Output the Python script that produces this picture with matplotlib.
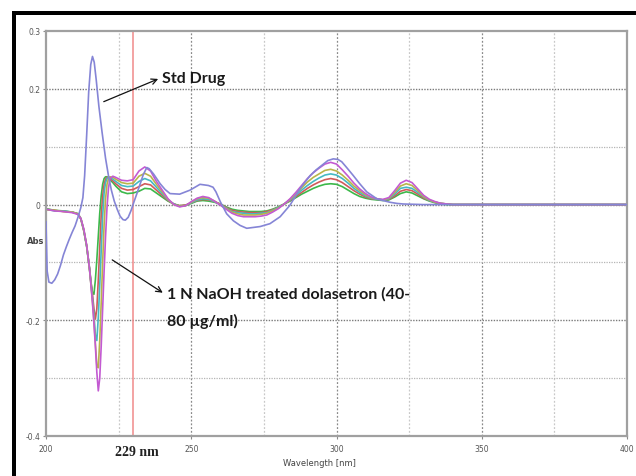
import matplotlib
matplotlib.use("Agg")
import matplotlib.pyplot as plt
from matplotlib.patches import Rectangle

# ---------------- data ----------------
# Std drug (first-derivative spectrum)
std_wl = [200, 200.4, 201, 202, 203, 204, 205, 206, 207, 208, 209, 210, 211, 212,
          212.7, 213.3, 214, 214.7, 215.4, 216, 216.6, 217.3, 218.2, 219.3, 220.5,
          221.5, 222.5, 223.5, 224.5, 225.5, 226.5, 227.3, 228.3, 229.3, 230.3,
          231.5, 232.5, 233.5, 234.7, 235.5, 237, 239.3, 241, 242.7, 246, 249.6,
          253, 255.9, 257.5, 258.5, 260, 262.2, 264.5, 266.8, 269.1, 273.7, 277.1,
          280.6, 284, 287.5, 290.9, 293, 295.5, 297, 298.9, 300.5, 301.8, 303.5,
          305.8, 308, 310.4, 313.9, 316, 318.4, 320.8, 323, 330, 340, 350, 360,
          370, 380, 390, 400]
std_abs = [-0.03, -0.115, -0.134, -0.136, -0.13, -0.12, -0.105, -0.087, -0.073,
           -0.06, -0.048, -0.037, -0.022, -0.005,
           0.012, 0.05, 0.12, 0.195, 0.242, 0.256, 0.246, 0.215, 0.17, 0.125, 0.08,
           0.05, 0.025, 0.006, -0.008, -0.02, -0.026, -0.027, -0.022, -0.01, 0.005,
           0.022, 0.037, 0.052, 0.064, 0.062, 0.053, 0.036, 0.026, 0.019, 0.018, 0.025,
           0.035, 0.033, 0.03, 0.022, 0.005, -0.016, -0.028, -0.036, -0.041, -0.038, -0.033,
           -0.021, -0.001, 0.028, 0.05, 0.06, 0.07, 0.076, 0.079, 0.078, 0.074, 0.064,
           0.05, 0.036, 0.022, 0.01, 0.007, 0.004, 0.002, 0.001, 0.0, 0.0, 0.0, 0.0,
           0.0, 0.0, 0.0, 0.0]

# 1 N NaOH treated dolasetron, 40-80 ug/ml
wl = [200, 203, 206, 209, 211, 212, 213, 214, 215, 215.5, 216, 216.5, 217, 217.5,
      218, 218.5, 219, 219.5, 220, 220.5, 221, 221.5, 222, 223, 224, 226, 228, 230,
      232, 234, 236, 238, 240, 242, 244, 246, 248, 250, 252, 254, 256, 258, 260,
      262, 264, 266, 268, 270, 272, 274, 276, 278, 280, 282, 284, 286, 288, 290,
      292, 294, 296, 298, 300, 302, 304, 306, 308, 310, 312, 314, 316, 318, 320,
      322, 324, 326, 328, 330, 332, 334, 336, 338, 340, 350, 360, 370, 380, 390, 400]

abs_40 = [-0.007, -0.010, -0.011, -0.013, -0.016, -0.025, -0.045, -0.072, -0.110, -0.135,
          -0.152, -0.155, -0.130, -0.095, -0.055, -0.015, 0.015, 0.035, 0.045, 0.048,
          0.048, 0.046, 0.043, 0.038, 0.032, 0.022, 0.019, 0.020, 0.023, 0.028, 0.027,
          0.020, 0.013, 0.006, 0.001, -0.002, -0.001, 0.002, 0.006, 0.007, 0.006, 0.004,
          0.001, -0.004, -0.008, -0.010, -0.011, -0.012, -0.012, -0.012, -0.011, -0.008,
          -0.004, 0.001, 0.006, 0.012, 0.018, 0.023, 0.028, 0.032, 0.035, 0.036, 0.035,
          0.031, 0.025, 0.019, 0.014, 0.011, 0.009, 0.008, 0.007, 0.008, 0.013, 0.019,
          0.022, 0.020, 0.015, 0.010, 0.006, 0.003, 0.001, 0.000, 0.000, 0.0, 0.0, 0.0,
          0.0, 0.0, 0.0]
abs_50 = [-0.008, -0.010, -0.012, -0.013, -0.016, -0.025, -0.045, -0.072, -0.112, -0.135,
          -0.155, -0.180, -0.198, -0.180, -0.130, -0.075, -0.020, 0.015, 0.035, 0.044,
          0.047, 0.047, 0.045, 0.041, 0.036, 0.028, 0.025, 0.026, 0.031, 0.036, 0.034,
          0.025, 0.016, 0.007, 0.001, -0.002, -0.001, 0.003, 0.007, 0.009, 0.008, 0.005,
          0.001, -0.005, -0.010, -0.012, -0.013, -0.014, -0.014, -0.014, -0.012, -0.009,
          -0.005, 0.001, 0.007, 0.014, 0.021, 0.028, 0.034, 0.039, 0.043, 0.045, 0.043,
          0.038, 0.031, 0.024, 0.018, 0.013, 0.010, 0.009, 0.008, 0.009, 0.015, 0.023,
          0.026, 0.024, 0.018, 0.011, 0.007, 0.004, 0.002, 0.001, 0.000, 0.0, 0.0, 0.0,
          0.0, 0.0, 0.0]
abs_60 = [-0.008, -0.011, -0.011, -0.013, -0.016, -0.024, -0.044, -0.072, -0.113, -0.138,
          -0.162, -0.190, -0.225, -0.235, -0.195, -0.140, -0.080, -0.020, 0.020, 0.038,
          0.045, 0.047, 0.047, 0.044, 0.040, 0.033, 0.031, 0.032, 0.040, 0.045, 0.041,
          0.030, 0.019, 0.008, 0.001, -0.003, -0.002, 0.003, 0.008, 0.010, 0.009, 0.005,
          0.000, -0.006, -0.012, -0.014, -0.015, -0.016, -0.016, -0.015, -0.014, -0.010,
          -0.005, 0.001, 0.008, 0.016, 0.025, 0.033, 0.040, 0.046, 0.051, 0.053, 0.051,
          0.045, 0.037, 0.028, 0.021, 0.015, 0.011, 0.009, 0.008, 0.010, 0.018, 0.028,
          0.030, 0.028, 0.021, 0.013, 0.007, 0.004, 0.002, 0.001, 0.000, 0.0, 0.0, 0.0,
          0.0, 0.0, 0.0]
abs_70 = [-0.009, -0.010, -0.012, -0.013, -0.016, -0.024, -0.043, -0.071, -0.113, -0.140,
          -0.168, -0.200, -0.240, -0.278, -0.282, -0.235, -0.170, -0.100, -0.035, 0.010,
          0.035, 0.045, 0.048, 0.047, 0.044, 0.038, 0.036, 0.037, 0.049, 0.054, 0.049,
          0.035, 0.022, 0.009, 0.000, -0.003, -0.002, 0.004, 0.010, 0.012, 0.011, 0.006,
          0.000, -0.007, -0.013, -0.016, -0.018, -0.018, -0.018, -0.017, -0.015, -0.011,
          -0.006, 0.001, 0.009, 0.018, 0.029, 0.039, 0.047, 0.053, 0.059, 0.061, 0.058,
          0.051, 0.042, 0.032, 0.024, 0.017, 0.012, 0.010, 0.008, 0.011, 0.021, 0.032,
          0.036, 0.033, 0.024, 0.014, 0.008, 0.004, 0.002, 0.001, 0.000, 0.0, 0.0, 0.0,
          0.0, 0.0, 0.0]
abs_80 = [-0.008, -0.011, -0.012, -0.014, -0.017, -0.024, -0.042, -0.070, -0.112, -0.140,
          -0.170, -0.205, -0.245, -0.290, -0.322, -0.300, -0.245, -0.180, -0.115, -0.055,
          -0.005, 0.028, 0.045, 0.049, 0.047, 0.042, 0.041, 0.043, 0.058, 0.065, 0.058,
          0.040, 0.025, 0.010, 0.000, -0.004, -0.002, 0.005, 0.011, 0.014, 0.012, 0.006,
          -0.001, -0.008, -0.015, -0.019, -0.021, -0.021, -0.021, -0.020, -0.018, -0.013,
          -0.007, 0.001, 0.010, 0.021, 0.033, 0.045, 0.055, 0.063, 0.070, 0.073, 0.070,
          0.060, 0.049, 0.037, 0.027, 0.019, 0.013, 0.010, 0.009, 0.012, 0.024, 0.037,
          0.042, 0.038, 0.027, 0.016, 0.009, 0.005, 0.002, 0.001, 0.000, 0.0, 0.0, 0.0,
          0.0, 0.0, 0.0]

sample_series = [abs_40, abs_50, abs_60, abs_70, abs_80]
sample_colors = ["#3cb84a", "#d05a5a", "#45b9c4", "#b9b44a", "#c35ad2"]

x_ticks = [200, 250, 300, 350, 400]
x_ticklabels = ["200", "250", "300", "350", "400"]
y_ticks = [0.3, 0.2, 0.0, -0.2, -0.4]
y_ticklabels = ["0.3", "0.2", "0", "-0.2", "-0.4"]
marker_wl = 230

# ---------------- figure ----------------
W, H = 636, 477
fig = plt.figure(figsize=(W / 100, H / 100), dpi=100)
fig.patch.set_facecolor("white")
ax = fig.add_axes([46 / W, (H - 437) / H, (627 - 46) / W, (437 - 32) / H])

ax.set_xlim(200, 400)
ax.set_ylim(-0.4, 0.3)

# grid
for xv in [250, 300, 350]:
    ax.axvline(xv, color="#8a8a8a", lw=0.9, ls=(0, (1.5, 1.5)), zorder=0)
for xv in [225, 275, 325, 375]:
    ax.axvline(xv, color="#c8c8c8", lw=0.9, ls=(0, (1.5, 1.5)), zorder=0)
for yv in [0.2, 0.0, -0.2]:
    ax.axhline(yv, color="#7a7a7a", lw=1.0, ls=(0, (1, 1)), zorder=0)
for yv in [0.1, -0.1, -0.3]:
    ax.axhline(yv, color="#b5b5b5", lw=0.9, ls=(0, (1, 1)), zorder=0)

ax.axvline(marker_wl, color="#f08a8a", lw=1.1, zorder=1)

for ys, c in zip(sample_series, sample_colors):
    ax.plot(wl, ys, color=c, lw=1.2, zorder=2)
ax.plot(std_wl, std_abs, color="#8585d6", lw=1.2, zorder=3)

for s in ax.spines.values():
    s.set_color("#a0a0a0")
    s.set_linewidth(1.6)

ax.set_xticks(x_ticks)
ax.set_xticklabels(x_ticklabels)
ax.set_yticks(y_ticks)
ax.set_yticklabels(y_ticklabels)
ax.tick_params(axis="both", labelsize=5.5, colors="#8a8a8a", labelcolor="#555555",
               length=2, width=0.8, pad=2)
ax.tick_params(axis="x", pad=4)

# axis labels as text
ax.text(196.4, -0.062, "Abs", fontsize=6, color="#444444", ha="center", va="center",
        clip_on=False, fontweight="bold")
ax.text(294, -0.445, "Wavelength [nm]", fontsize=6, color="#444444", ha="center",
        va="center", clip_on=False)
ax.text(231.3, -0.427, "229 nm", fontsize=10, fontweight="bold",
        family="Liberation Serif", color="#222222", ha="center", va="center",
        clip_on=False)

# annotations
ann_font = dict(family="Lato", fontweight="bold", color="#1a1a1a")
ax.annotate("", xy=(239.5, 0.219), xytext=(219, 0.176),
            arrowprops=dict(arrowstyle="->", color="#111111", lw=0.9))
ax.text(240, 0.218, "Std Drug", fontsize=11.5, ha="left", va="center", **ann_font)

ax.annotate("", xy=(241, -0.155), xytext=(222, -0.093),
            arrowprops=dict(arrowstyle="->", color="#111111", lw=0.9))
ax.text(241.5, -0.153, "1 N NaOH treated dolasetron (40-", fontsize=11.5,
        ha="left", va="center", **ann_font)
ax.text(241.5, -0.200, "80 \u00b5g/ml)", fontsize=11.5, ha="left", va="center",
        **ann_font)

# outer black frame (left and top)
fig.add_artist(Rectangle((12 / W, 0), 4 / W, (H - 12) / H, transform=fig.transFigure,
                         color="black", lw=0))
fig.add_artist(Rectangle((12 / W, (H - 16) / H), 1 - 12 / W, 4 / H,
                         transform=fig.transFigure, color="black", lw=0))

fig.savefig("out.png", dpi=100)
